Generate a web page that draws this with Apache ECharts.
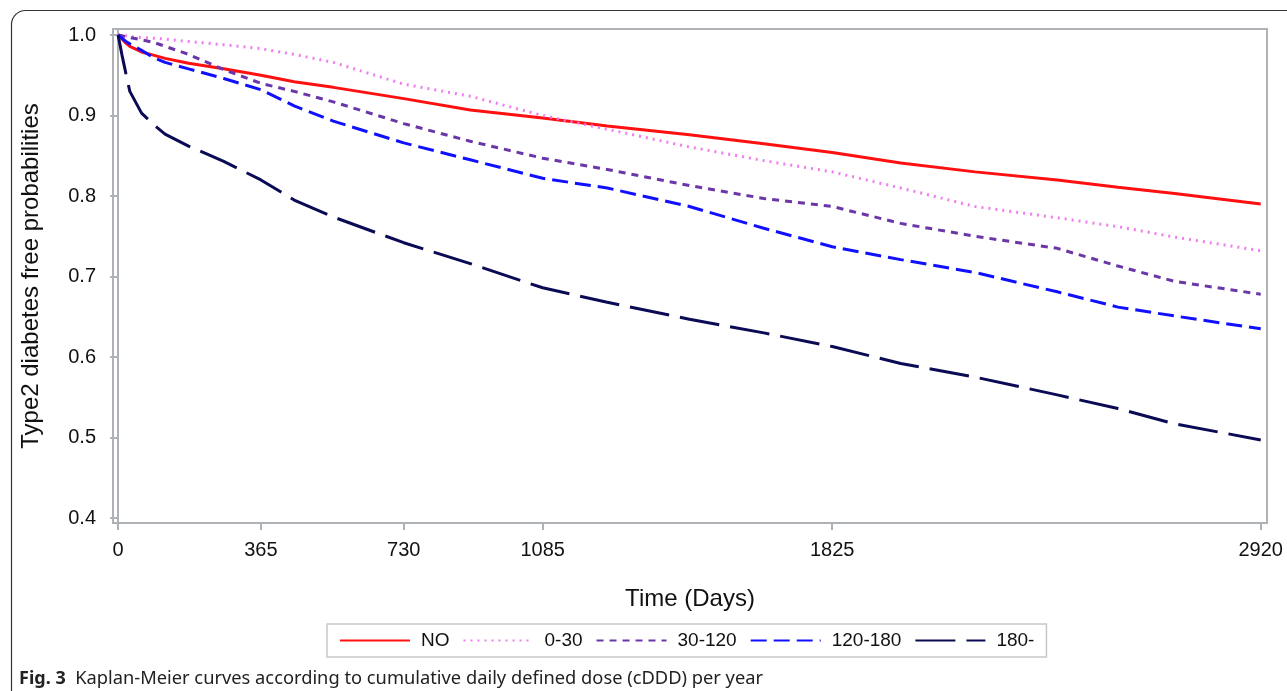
<!DOCTYPE html>
<html>
<head>
<meta charset="utf-8">
<script src="https://cdn.jsdelivr.net/npm/echarts@6/dist/echarts.min.js"></script>
<style>
  html, body { margin: 0; padding: 0; background: #fff; }
  #main { width: 1287px; height: 691px; }
</style>
</head>
<body>
<div id="main"></div>
<script>
// follow-up days (x) shared by every curve
var days = [0, 10, 20, 30, 60, 90, 120, 180, 270, 365, 450, 550, 730, 900, 1085, 1250, 1460, 1650, 1825, 2000, 2190, 2400, 2555, 2700, 2920];

// survival, one array per cDDD group
var survNo     = [1.0, 0.995, 0.990, 0.986, 0.979, 0.975, 0.971, 0.965, 0.958, 0.950, 0.942, 0.935, 0.921, 0.907, 0.897, 0.887, 0.876, 0.865, 0.854, 0.841, 0.830, 0.820, 0.811, 0.803, 0.790];
var surv0_30   = [1.0, 1.0, 0.999, 0.998, 0.997, 0.996, 0.995, 0.992, 0.988, 0.983, 0.976, 0.966, 0.939, 0.924, 0.900, 0.883, 0.861, 0.844, 0.830, 0.810, 0.787, 0.773, 0.762, 0.749, 0.732];
var surv30_120 = [1.0, 0.999, 0.998, 0.997, 0.994, 0.991, 0.986, 0.976, 0.957, 0.940, 0.930, 0.917, 0.890, 0.868, 0.847, 0.833, 0.813, 0.797, 0.787, 0.766, 0.750, 0.735, 0.713, 0.694, 0.678];
var surv120_180 = [1.0, 0.996, 0.992, 0.989, 0.981, 0.972, 0.966, 0.958, 0.946, 0.932, 0.912, 0.893, 0.866, 0.845, 0.822, 0.810, 0.787, 0.760, 0.737, 0.721, 0.705, 0.681, 0.662, 0.651, 0.635];
var surv180    = [1.0, 0.975, 0.952, 0.930, 0.903, 0.889, 0.877, 0.862, 0.843, 0.820, 0.795, 0.774, 0.742, 0.716, 0.686, 0.668, 0.647, 0.630, 0.613, 0.592, 0.575, 0.553, 0.536, 0.517, 0.497];

var groupNames = ['NO', '0-30', '30-120', '120-180', '180-'];
var xTicks = [0, 365, 730, 1085, 1825, 2920];
var yTicks = [0.4, 0.5, 0.6, 0.7, 0.8, 0.9, 1.0];

var toPairs = function(vals) {
  var out = [];
  for (var i = 0; i < days.length; i++) {
    out.push([days[i], vals[i]]);
  }
  return out;
};

var makeSeries = function(name, vals, color, dash) {
  return {
    name: name,
    type: 'line',
    symbol: 'none',
    silent: true,
    lineStyle: { color: color, width: 3, type: dash, cap: 'butt' },
    itemStyle: { color: color },
    data: toPairs(vals)
  };
};

var axisGray = '#aeb2b6';
var chart = echarts.init(document.getElementById('main'));

var options = {
  animation: false,
  grid: {
    left: 113, right: 20, top: 29, bottom: 168,
    show: true, borderColor: axisGray, borderWidth: 2
  },
  xAxis: {
    type: 'value',
    min: -13, max: 2936,
    name: 'Time (Days)',
    nameLocation: 'middle',
    nameGap: 64,
    nameTextStyle: { fontFamily: 'Liberation Sans', fontSize: 24, color: '#111' },
    axisLine: { lineStyle: { color: axisGray, width: 2 } },
    axisTick: { show: true, length: 7, lineStyle: { color: axisGray, width: 2 }, customValues: xTicks },
    axisLabel: {
      customValues: xTicks, fontFamily: 'Liberation Sans', fontSize: 20, color: '#111', margin: 17,
      formatter: function(v) { return String(v); }
    },
    splitLine: { show: false }
  },
  yAxis: {
    type: 'value',
    min: 0.3938, max: 1.0075,
    name: 'Type2 diabetes free probabilities',
    nameLocation: 'middle',
    nameGap: 70,
    nameTextStyle: { fontFamily: 'Liberation Sans', fontSize: 24, color: '#111' },
    axisLine: { show: true, lineStyle: { color: axisGray, width: 2 } },
    axisTick: { show: true, length: 8, lineStyle: { color: axisGray, width: 2 }, customValues: yTicks },
    axisLabel: {
      customValues: yTicks, fontFamily: 'Liberation Sans', fontSize: 20, color: '#111', margin: 17,
      formatter: function(v) { return v.toFixed(1); }
    },
    splitLine: { show: false }
  },
  legend: {
    left: 327, top: 624,
    itemWidth: 70, itemHeight: 14, itemGap: 13,
    padding: [7, 12],
    borderColor: '#c8c8c8', borderWidth: 1.5,
    selectedMode: false,
    itemStyle: { opacity: 0 },
    textStyle: { fontFamily: 'Liberation Sans', fontSize: 19, color: '#111', padding: [0, 0, 0, 6] },
    data: groupNames
  },
  title: {
    left: 14, top: 665,
    text: '{b|Fig. 3}  Kaplan-Meier curves according to cumulative daily defined dose (cDDD) per year',
    textStyle: {
      fontFamily: 'Noto Sans', fontSize: 18.3, fontWeight: 'normal', color: '#222',
      rich: { b: { fontFamily: 'Noto Sans', fontSize: 18, fontWeight: 'bold', color: '#222' } }
    }
  },
  graphic: [{
    type: 'rect',
    silent: true,
    shape: { x: 11.5, y: 10.5, width: 1320, height: 720, r: 14 },
    style: { fill: 'none', stroke: '#333', lineWidth: 1.2 }
  }],
  series: [
    makeSeries(groupNames[0], survNo, '#ff1010', 'solid'),
    makeSeries(groupNames[1], surv0_30, '#f07cf0', [2, 5]),
    makeSeries(groupNames[2], surv30_120, '#6a36a8', [7, 6]),
    makeSeries(groupNames[3], surv120_180, '#1010ff', [16, 7]),
    makeSeries(groupNames[4], surv180, '#0a0a55', [40, 11])
  ]
};

chart.setOption(options);
</script>
</body>
</html>
